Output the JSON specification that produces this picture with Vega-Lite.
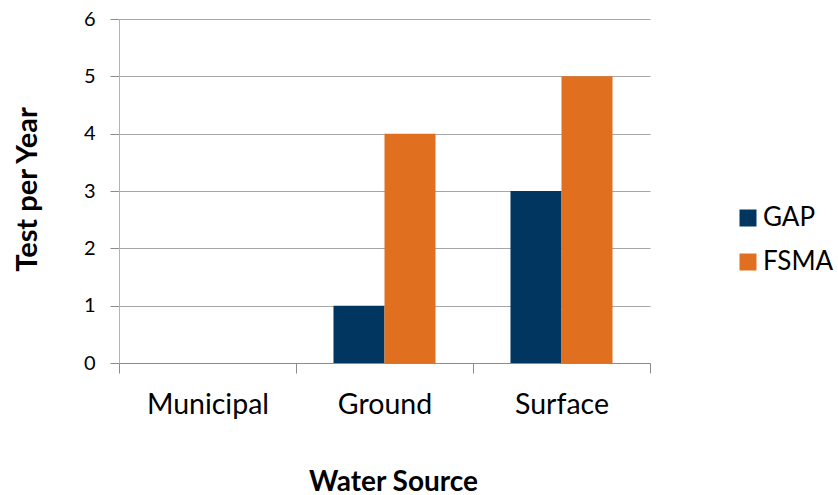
{
  "$schema": "https://vega.github.io/schema/vega-lite/v6.json",
  "autosize": "none",
  "width": 531,
  "height": 344,
  "padding": {"left": 119, "top": 19, "right": 188, "bottom": 132},
  "background": "white",
  "config": {
    "font": "Lato",
    "view": {"stroke": null}
  },
  "data": {
    "values": [
      {"source": "Municipal", "standard": "GAP", "tests": 0},
      {"source": "Municipal", "standard": "FSMA", "tests": 0},
      {"source": "Ground", "standard": "GAP", "tests": 1},
      {"source": "Ground", "standard": "FSMA", "tests": 4},
      {"source": "Surface", "standard": "GAP", "tests": 3},
      {"source": "Surface", "standard": "FSMA", "tests": 5}
    ]
  },
  "mark": {"type": "bar"},
  "encoding": {
    "x": {
      "field": "source",
      "type": "nominal",
      "sort": ["Municipal", "Ground", "Surface"],
      "scale": {"paddingInner": 0, "paddingOuter": 0},
      "axis": {
        "title": "Water Source",
        "titleFont": "Lato",
        "titleFontSize": 28,
        "titleFontWeight": "bold",
        "titleColor": "#000000",
        "titleX": 274,
        "titleY": 127,
        "titleBaseline": "alphabetic",
        "labelAngle": 0,
        "labelFontSize": 28.5,
        "labelColor": "#000000",
        "labelBaseline": "alphabetic",
        "labelPadding": 40,
        "tickBand": "extent",
        "tickSize": 10,
        "tickColor": "#8c8c8c",
        "domainColor": "#8c8c8c",
        "grid": false
      }
    },
    "xOffset": {
      "field": "standard",
      "type": "nominal",
      "sort": ["GAP", "FSMA"],
      "scale": {"paddingInner": 0, "paddingOuter": 0.735}
    },
    "y": {
      "field": "tests",
      "type": "quantitative",
      "scale": {"domain": [0, 6], "nice": false},
      "axis": {
        "title": "Test per Year",
        "titleFont": "Lato",
        "titleFontSize": 29,
        "titleFontWeight": "bold",
        "titleColor": "#000000",
        "titleX": -92,
        "titleY": 170,
        "titleBaseline": "middle",
        "titleAngle": -90,
        "values": [0, 1, 2, 3, 4, 5, 6],
        "labelFontSize": 20,
        "labelColor": "#000000",
        "labelPadding": 15,
        "tickSize": 9,
        "tickColor": "#8c8c8c",
        "domainColor": "#b3b3b3",
        "gridColor": "#a6a6a6",
        "gridWidth": 1
      }
    },
    "color": {
      "field": "standard",
      "type": "nominal",
      "sort": ["GAP", "FSMA"],
      "scale": {"domain": ["GAP", "FSMA"], "range": ["#003660", "#E07020"]},
      "legend": {
        "title": null,
        "orient": "none",
        "legendX": 616,
        "legendY": 186,
        "padding": 0,
        "symbolType": "square",
        "symbolSize": 289,
        "symbolStrokeWidth": 0,
        "labelFontSize": 26,
        "labelColor": "#000000",
        "labelOffset": 2,
        "rowPadding": 18
      }
    }
  }
}
